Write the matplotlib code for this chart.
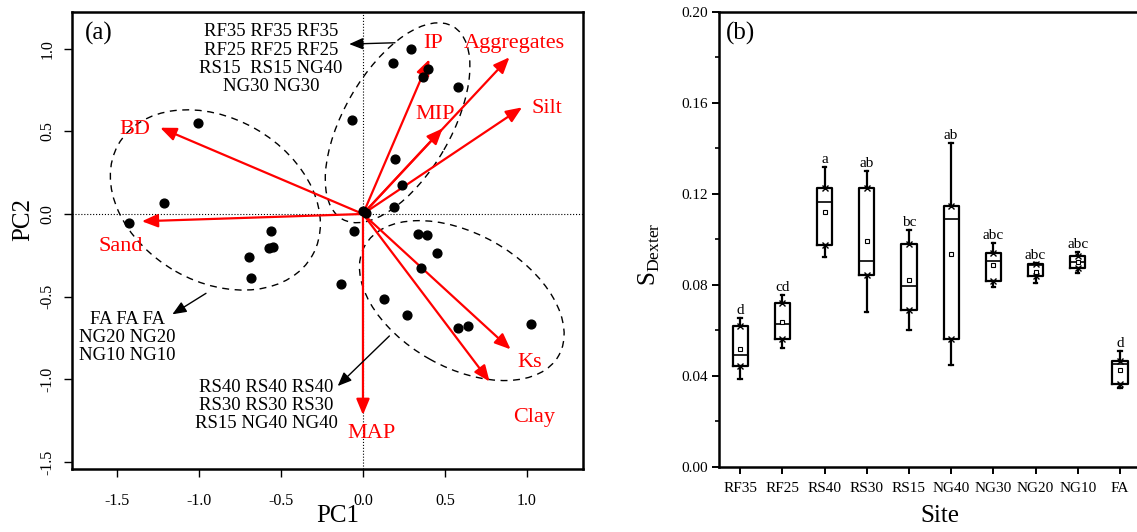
import matplotlib
matplotlib.use('Agg')
import matplotlib.pyplot as plt
from matplotlib.patches import Ellipse
from matplotlib.ticker import FormatStrFormatter, MultipleLocator

plt.rcParams['font.family'] = ['Liberation Serif', 'DejaVu Serif']
plt.rcParams['mathtext.fontset'] = 'custom'
plt.rcParams['mathtext.rm'] = 'Liberation Serif'
plt.rcParams['axes.unicode_minus'] = False

# ---- panel (a): PCA scores ----
pc1 = [0.291, 0.181, 0.398, 0.365, 0.579, -0.068, -1.006, 0.195, 0.240, 0.188,
       0.0, 0.016, -1.213, -1.429, -0.561, -0.570, -0.547, -0.696, -0.056, 0.333,
       0.391, 0.449, 0.356, -0.684, -0.135, 0.128, 0.268, 0.579, 0.642, 1.026]
pc2 = [0.996, 0.915, 0.877, 0.829, 0.768, 0.571, 0.550, 0.335, 0.175, 0.044,
       0.02, 0.004, 0.065, -0.052, -0.103, -0.208, -0.198, -0.262, -0.103, -0.123,
       -0.129, -0.238, -0.325, -0.389, -0.423, -0.514, -0.613, -0.688, -0.676, -0.664]

# loadings (arrow tips) and label anchors
var_names = ['BD', 'Sand', 'IP', 'Aggregates', 'MIP', 'Silt', 'MAP', 'Ks', 'Clay']
load_x = [-1.236, -1.348, 0.405, 0.893, 0.486, 0.970, 0.0, 0.900, 0.772]
load_y = [0.522, -0.044, 0.936, 0.948, 0.518, 0.645, -1.216, -0.819, -1.014]
lab_x = [-1.39, -1.48, 0.427, 0.925, 0.437, 1.12, 0.055, 1.017, 1.043]
lab_y = [0.482, -0.222, 1.006, 1.006, 0.573, 0.609, -1.357, -0.927, -1.256]

# group ellipses: centre x, centre y, width, height, angle
ell_cx = [-0.90, 0.211, 0.6025]
ell_cy = [0.085, 0.552, -0.524]
ell_w = [1.36, 1.347, 1.356]
ell_h = [0.99, 0.653, 0.809]
ell_ang = [-29.4, 59.8, -29.2]

# group annotation text, text anchor (top centre), arrow tail and head
grp_text = ['RF35 RF35 RF35\nRF25 RF25 RF25\nRS15  RS15 NG40\nNG30 NG30',
            'FA FA FA\nNG20 NG20\nNG10 NG10',
            'RS40 RS40 RS40\nRS30 RS30 RS30\nRS15 NG40 NG40']
grp_tx = [-0.56, -1.434, -0.59]
grp_ty = [1.154, -0.585, -0.996]
arr_from = [(0.195, 1.036), (-0.957, -0.480), (0.161, -0.738)]
arr_to = [(-0.084, 1.028), (-1.162, -0.607), (-0.154, -1.041)]

# ---- panel (b): S Dexter box plots ----
sites = ['RF35', 'RF25', 'RS40', 'RS30', 'RS15', 'NG40', 'NG30', 'NG20', 'NG10', 'FA']
q1 = [0.0445, 0.0564, 0.0976, 0.0844, 0.0690, 0.0561, 0.0818, 0.0840, 0.0874, 0.0363]
med = [0.0492, 0.0629, 0.1163, 0.0907, 0.0796, 0.1090, 0.0905, 0.0889, 0.0903, 0.0451]
q3 = [0.0621, 0.0721, 0.1228, 0.1228, 0.0980, 0.1149, 0.0942, 0.0892, 0.0927, 0.0467]
wlo = [0.0385, 0.0522, 0.0925, 0.0683, 0.0601, 0.0447, 0.0790, 0.0808, 0.0851, 0.0346]
whi = [0.0656, 0.0756, 0.1317, 0.1301, 0.1042, 0.1423, 0.0983, 0.0898, 0.0946, 0.0511]
mean = [0.0520, 0.0639, 0.1122, 0.0993, 0.0822, 0.0935, 0.0888, 0.0855, 0.0903, 0.0426]
letters = ['d', 'cd', 'a', 'ab', 'bc', 'ab', 'abc', 'abc', 'abc', 'd']

fig = plt.figure(figsize=(11.37, 5.32), dpi=100)

# ================= (a) =================
ax1 = fig.add_axes([0.0633, 0.1184, 0.4494, 0.8590])
ax1.set_xlim(-1.774, 1.341)
ax1.set_ylim(-1.543, 1.222)
ax1.axvline(0, color='black', ls=':', lw=0.8, zorder=1)
ax1.axhline(0, color='black', ls=':', lw=0.8, zorder=1)

for cx, cy, w, h, a in zip(ell_cx, ell_cy, ell_w, ell_h, ell_ang):
    ax1.add_patch(Ellipse((cx, cy), w, h, angle=a, fill=False, ec='black',
                          lw=1.0, ls=(0, (5, 4)), zorder=2))

for vx, vy in zip(load_x, load_y):
    ax1.annotate('', xy=(vx, vy), xytext=(0, 0),
                 arrowprops=dict(arrowstyle='-|>,head_length=0.6,head_width=0.25',
                                 color='red', lw=1.6, mutation_scale=16,
                                 shrinkA=0, shrinkB=0), zorder=3)
for name, lx, ly in zip(var_names, lab_x, lab_y):
    ax1.text(lx, ly, name, color='red', fontsize=16, ha='center', va='baseline')

ax1.scatter(pc1, pc2, s=40, color='black', zorder=4)

for t, tx, ty, a0, a1 in zip(grp_text, grp_tx, grp_ty, arr_from, arr_to):
    ax1.text(tx, ty, t, fontsize=13.5, ha='center', va='top', ma='center',
             linespacing=1.1)
    ax1.annotate('', xy=a1, xytext=a0,
                 arrowprops=dict(arrowstyle='-|>,head_length=0.6,head_width=0.25',
                                 color='black', lw=1.0, mutation_scale=14,
                                 shrinkA=0, shrinkB=0))

ax1.text(0.025, 0.978, '(a)', transform=ax1.transAxes, fontsize=18,
         ha='left', va='top')

ax1.set_xticks([-1.5, -1.0, -0.5, 0.0, 0.5, 1.0])
ax1.set_yticks([-1.5, -1.0, -0.5, 0.0, 0.5, 1.0])
ax1.xaxis.set_major_formatter(FormatStrFormatter('%.1f'))
ax1.yaxis.set_major_formatter(FormatStrFormatter('%.1f'))
ax1.tick_params(direction='out', length=6, width=1.0, labelsize=11.5)
ax1.tick_params(axis='x', pad=11)
ax1.tick_params(axis='y', pad=6, labelrotation=90)
for lab in ax1.get_yticklabels():
    lab.set_va('center')
for sp in ax1.spines.values():
    sp.set_linewidth(1.8)
ax1.set_xlabel('PC1', fontsize=18)
ax1.set_ylabel('PC2', fontsize=18)
ax1.xaxis.set_label_coords(0.52, -0.079)
ax1.yaxis.set_label_coords(-0.074, 0.545)

# ================= (b) =================
ax2 = fig.add_axes([0.6324, 0.1222, 0.3712, 0.8553])
stats = []
for i in range(len(sites)):
    stats.append(dict(med=med[i], q1=q1[i], q3=q3[i], whislo=wlo[i],
                      whishi=whi[i], mean=mean[i], fliers=[]))
pos = list(range(1, len(sites) + 1))
ax2.bxp(stats, positions=pos, widths=0.36, showmeans=True, showfliers=False,
        capwidths=0.08,
        boxprops=dict(color='black', lw=1.6),
        whiskerprops=dict(color='black', lw=1.6),
        capprops=dict(color='black', lw=1.6),
        medianprops=dict(color='black', lw=1.2),
        meanprops=dict(marker='s', markersize=3, markerfacecolor='white',
                       markeredgecolor='black', markeredgewidth=0.8))
ax2.plot(pos, q1, 'x', color='black', ms=4, mew=1.0)
ax2.plot(pos, q3, 'x', color='black', ms=4, mew=1.0)
for p, h, t in zip(pos, whi, letters):
    ax2.annotate(t, xy=(p, h), xytext=(0, 3), textcoords='offset points',
                 ha='center', va='baseline', fontsize=11)

ax2.set_xlim(0.5, 10.5)
ax2.set_ylim(0, 0.20)
ax2.set_xticks(pos)
ax2.set_xticklabels(sites)
ax2.yaxis.set_major_locator(MultipleLocator(0.04))
ax2.yaxis.set_minor_locator(MultipleLocator(0.02))
ax2.yaxis.set_major_formatter(FormatStrFormatter('%.2f'))
ax2.tick_params(direction='out', length=5, width=1.4, labelsize=11)
ax2.tick_params(axis='y', which='minor', direction='out', length=3, width=1.2)
ax2.tick_params(axis='x', pad=6)
ax2.tick_params(axis='y', pad=3)
for sp in ax2.spines.values():
    sp.set_linewidth(1.8)
ax2.text(0.017, 0.978, '(b)', transform=ax2.transAxes, fontsize=18,
         ha='left', va='top')
ax2.set_xlabel('Site', fontsize=18)
ax2.set_ylabel(r'$\mathrm{S}_{\mathrm{Dexter}}$', fontsize=18)
ax2.xaxis.set_label_coords(0.524, -0.084)
ax2.yaxis.set_label_coords(-0.135, 0.468)

fig.savefig('out.png', dpi=100)
